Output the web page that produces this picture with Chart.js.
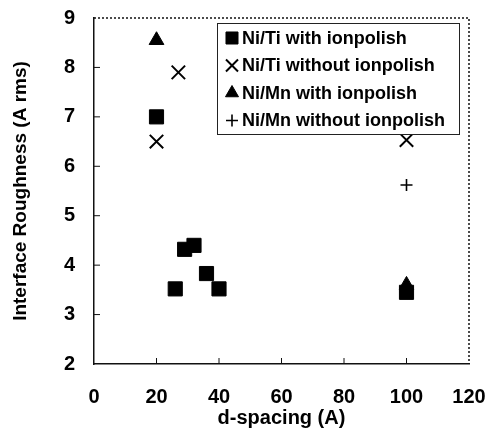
<!DOCTYPE html>
<html>
<head>
<meta charset="utf-8">
<script src="https://cdn.jsdelivr.net/npm/chart.js@4/dist/chart.umd.min.js"></script>
<style>
  html, body { margin: 0; padding: 0; background: #fff; }
  #wrap { width: 487px; height: 428px; }
</style>
</head>
<body>
<div id="wrap"><canvas id="chart" width="487" height="428"></canvas></div>
<script>
// Values
const seriesNames = ['Ni/Ti with ionpolish', 'Ni/Ti without ionpolish', 'Ni/Mn with ionpolish', 'Ni/Mn without ionpolish'];

const niTiWithX = [20, 26, 29, 32, 36, 40, 100];
const niTiWithY = [7.0, 3.52, 4.32, 4.4, 3.83, 3.52, 3.45];

const niTiWithoutX = [20, 27, 100];
const niTiWithoutY = [6.5, 7.9, 6.53];

const niMnWithX = [20, 100];
const niMnWithY = [8.55, 3.6];

const niMnWithoutX = [100];
const niMnWithoutY = [5.62];

const xTicks = [0, 20, 40, 60, 80, 100, 120];
const yTicks = [2, 3, 4, 5, 6, 7, 8, 9];

const FONT = '"Liberation Sans", Arial, sans-serif';

function toPoints(xs, ys) {
    return xs.map((x, i) => ({ x: x, y: ys[i] }));
}

// radius on the plot, and a smaller one for the legend key
const markerStyles = [
    { pointStyle: 'rect', radius: 10, legendRadius: 8.5, borderWidth: 1 },
    { pointStyle: 'crossRot', radius: 9.5, legendRadius: 8.5, borderWidth: 2 },
    { pointStyle: 'triangle', radius: 8.5, legendRadius: 7.5, borderWidth: 1 },
    { pointStyle: 'cross', radius: 6, legendRadius: 6, borderWidth: 1.6 }
];

const seriesData = [
    toPoints(niTiWithX, niTiWithY),
    toPoints(niTiWithoutX, niTiWithoutY),
    toPoints(niMnWithX, niMnWithY),
    toPoints(niMnWithoutX, niMnWithoutY)
];

// Plot frame: solid left/bottom, dotted top/right, with inward tick marks
const framePlugin = {
    id: 'frame',
    afterDatasetsDraw(chart) {
        const { ctx, chartArea: a, scales } = chart;
        ctx.save();
        ctx.strokeStyle = '#111';
        ctx.lineWidth = 1.5;
        ctx.setLineDash([2, 2]);
        ctx.beginPath();
        ctx.moveTo(a.left, a.top);
        ctx.lineTo(a.right, a.top);
        ctx.lineTo(a.right, a.bottom);
        ctx.stroke();
        ctx.setLineDash([]);
        ctx.lineWidth = 1;
        ctx.beginPath();
        scales.x.ticks.forEach(t => {
            const px = scales.x.getPixelForValue(t.value);
            if (t.value === 0 || t.value === 120) return;
            ctx.moveTo(px, a.bottom);
            ctx.lineTo(px, a.bottom - 6);
        });
        scales.y.ticks.forEach(t => {
            const py = scales.y.getPixelForValue(t.value);
            if (t.value === 2 || t.value === 9) return;
            ctx.moveTo(a.left, py);
            ctx.lineTo(a.left + 6, py);
        });
        ctx.stroke();
        ctx.restore();
    }
};

// Boxed legend inside the plot, top right
const legendPlugin = {
    id: 'boxLegend',
    afterDraw(chart) {
        const { ctx, chartArea: a } = chart;
        const boxLeft = 217, boxTop = a.top + 5, boxW = 242, boxH = 111;
        ctx.save();
        ctx.fillStyle = '#fff';
        ctx.fillRect(boxLeft, boxTop, boxW, boxH);
        ctx.strokeStyle = '#222';
        ctx.lineWidth = 1;
        ctx.strokeRect(boxLeft + 0.5, boxTop + 0.5, boxW, boxH);
        ctx.font = 'bold 18px ' + FONT;
        ctx.textBaseline = 'middle';
        seriesNames.forEach((name, i) => {
            const y = boxTop + 15 + i * 27.5;
            const st = markerStyles[i];
            ctx.fillStyle = '#000';
            ctx.strokeStyle = '#000';
            ctx.lineWidth = st.borderWidth;
            Chart.helpers.drawPoint(ctx, {
                pointStyle: st.pointStyle,
                radius: st.legendRadius,
                rotation: 0,
                borderWidth: st.borderWidth
            }, 232, y);
            ctx.fillStyle = '#000';
            ctx.fillText(name, 242, y + 1);
        });
        ctx.restore();
    }
};

function initChart() {
    const ctx = document.getElementById('chart').getContext('2d');
    new Chart(ctx, {
        type: 'scatter',
        data: {
            datasets: seriesData.map((pts, i) => ({
                label: seriesNames[i],
                data: pts,
                pointStyle: markerStyles[i].pointStyle,
                pointRadius: markerStyles[i].radius,
                pointHoverRadius: markerStyles[i].radius,
                pointBorderWidth: markerStyles[i].borderWidth,
                backgroundColor: '#000',
                borderColor: '#000'
            }))
        },
        options: {
            responsive: false,
            animation: false,
            layout: { padding: 0 },
            plugins: {
                legend: { display: false },
                tooltip: { enabled: false }
            },
            scales: {
                x: {
                    type: 'linear',
                    min: 0,
                    max: 120,
                    afterBuildTicks: s => { s.ticks = xTicks.map(v => ({ value: v })); },
                    grid: { display: false, drawTicks: false },
                    border: { display: true, color: '#111', width: 1.5 },
                    ticks: {
                        color: '#000',
                        padding: 21,
                        maxRotation: 0,
                        font: { family: FONT, size: 20, weight: 'bold' }
                    },
                    title: {
                        display: true,
                        text: 'd-spacing (A)',
                        color: '#000',
                        padding: { top: 0, bottom: 0 },
                        font: { family: FONT, size: 20, weight: 'bold', lineHeight: 1.0 }
                    },
                    afterFit: s => {
                        s.height = 64;
                        s.paddingLeft = 0;
                        s.paddingRight = 18;
                    }
                },
                y: {
                    type: 'linear',
                    min: 2,
                    max: 9,
                    afterBuildTicks: s => { s.ticks = yTicks.map(v => ({ value: v })); },
                    grid: { display: false, drawTicks: false },
                    border: { display: true, color: '#111', width: 1.5 },
                    ticks: {
                        color: '#000',
                        padding: 19,
                        font: { family: FONT, size: 20, weight: 'bold' }
                    },
                    title: {
                        display: true,
                        text: 'Interface Roughness (A rms)',
                        color: '#000',
                        padding: { top: 9, bottom: 0 },
                        font: { family: FONT, size: 19, weight: 'bold' }
                    },
                    afterFit: s => {
                        s.width = 94;
                        s.paddingTop = 18;
                        s.paddingBottom = 0;
                    }
                }
            }
        },
        plugins: [framePlugin, legendPlugin]
    });
}

if (document.readyState === 'loading') {
    document.addEventListener('DOMContentLoaded', initChart);
} else {
    initChart();
}
</script>
</body>
</html>
